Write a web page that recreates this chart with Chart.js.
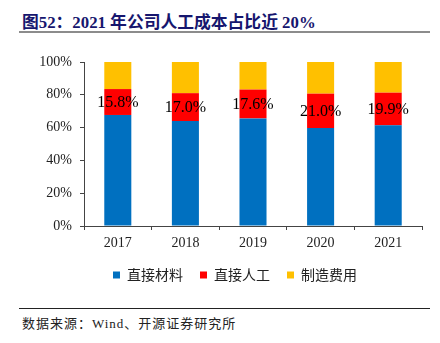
<!DOCTYPE html>
<html>
<head>
<meta charset="utf-8">
<script src="https://cdn.jsdelivr.net/npm/chart.js@4.4.1/dist/chart.umd.min.js"></script>
<style>
  html, body { margin: 0; padding: 0; background: #fff; }
  body { width: 440px; height: 343px; position: relative; overflow: hidden; }
  #title {
    position: absolute; left: 22px; top: 9px;
    font: bold 16.8px "Liberation Serif", "Noto Sans CJK SC", serif;
    color: #16166e; white-space: nowrap;
  }
  #titleLine { position: absolute; left: 19px; top: 31px; width: 411px; height: 2px; background: #8c8c8c; }
  #chartBox { position: absolute; left: 0; top: 40px; width: 440px; height: 260px; }
  #srcLine { position: absolute; left: 19px; top: 308px; width: 411px; height: 1px; background: #222; }
  #source {
    position: absolute; left: 22px; top: 313px;
    font: 13px "Liberation Serif", "Noto Sans CJK SC", serif;
    letter-spacing: 1px; color: #222; white-space: nowrap;
  }
</style>
</head>
<body>
<div id="title">图52：2021 年公司人工成本占比近 20%</div>
<div id="titleLine"></div>
<div id="chartBox"><canvas id="costChart"></canvas></div>
<div id="srcLine"></div>
<div id="source">数据来源：Wind、开源证券研究所</div>

<script>
const years = ['2017', '2018', '2019', '2020', '2021'];
const materials = [67.7, 64.0, 65.6, 59.7, 61.4];   // 直接材料
const labour = [15.8, 17.0, 17.6, 21.0, 19.9];      // 直接人工
const overhead = [16.5, 19.0, 16.8, 19.3, 18.7];    // 制造费用
const yTicks = [0, 20, 40, 60, 80, 100];

// percentage labels in the middle of the red segments
const labourLabels = {
    id: 'labourLabels',
    afterDatasetsDraw(chart)
    {
        const ctx = chart.ctx;
        const meta = chart.getDatasetMeta(1);
        ctx.save();
        ctx.font = '16px "Liberation Serif", serif';
        ctx.fillStyle = '#000';
        ctx.textAlign = 'center';
        ctx.textBaseline = 'middle';
        meta.data.forEach((bar, i) =>
        {
            const y = (bar.y + bar.base) / 2 + 1;
            ctx.fillText(labour[i].toFixed(1) + '%', bar.x, y);
        });
        ctx.restore();
    }
};

// nudge the legend row to the right, under the plot
const legendShift = {
    id: 'legendShift',
    afterLayout(chart)
    {
        if (!chart.legend) return;
        chart.legend.left += 24;
        chart.legend.right += 24;
    }
};

const ctx = document.getElementById('costChart').getContext('2d');

new Chart(ctx, {
    type: 'bar',
    data: {
        labels: years,
        datasets: [
            { label: '直接材料', data: materials, backgroundColor: '#0070c0' },
            { label: '直接人工', data: labour, backgroundColor: '#ff0000' },
            { label: '制造费用', data: overhead, backgroundColor: '#ffc000' }
        ]
    },
    options: {
        responsive: true,
        maintainAspectRatio: false,
        animation: false,
        datasets: {
            bar: { categoryPercentage: 1.0, barPercentage: 0.4 }
        },
        layout: {
            padding: { top: 22, left: 0, right: 18, bottom: 8 }
        },
        plugins: {
            legend: {
                display: true,
                position: 'bottom',
                labels: {
                    boxWidth: 7,
                    boxHeight: 7,
                    padding: 17,
                    color: '#222',
                    font: { family: '"Noto Sans CJK SC", sans-serif', size: 14 }
                }
            },
            tooltip: { enabled: false }
        },
        scales: {
            x: {
                stacked: true,
                clip: false,
                afterFit: scale => { scale.height = 25; },
                grid: { drawOnChartArea: false, tickLength: 4, color: '#444', offset: true },
                border: { color: '#444' },
                ticks: {
                    color: '#222',
                    padding: 5,
                    font: { family: '"Liberation Serif", serif', size: 14 }
                }
            },
            y: {
                stacked: true,
                min: 0,
                max: 100,
                afterBuildTicks: scale => { scale.ticks = yTicks.map(v => ({ value: v })); },
                afterFit: scale => { scale.width = 84; },
                grid: { drawOnChartArea: false, tickLength: 4, color: '#444' },
                border: { color: '#444' },
                ticks: {
                    color: '#222',
                    padding: 8,
                    callback: v => v + '%',
                    font: { family: '"Liberation Serif", serif', size: 14 }
                }
            }
        }
    },
    plugins: [labourLabels, legendShift]
});
</script>
</body>
</html>
